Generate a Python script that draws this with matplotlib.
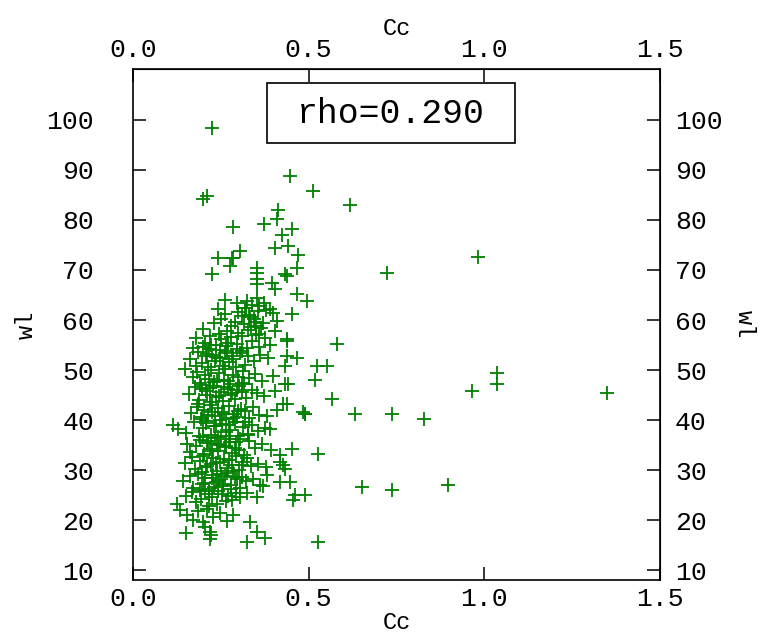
import matplotlib
matplotlib.use("Agg")
import matplotlib.pyplot as plt
from matplotlib.patches import Rectangle

plt.rcParams['font.family'] = ['Liberation Mono', 'DejaVu Sans']

# Cc / wl pairs, outliers first, then the dense cluster band by band
cc = [
    0.225, 0.200, 0.210, 0.447, 0.512, 0.618, 0.285, 0.413, 0.410, 0.373, 0.453, 0.424,
    0.404, 0.441, 0.470, 0.305, 0.242, 0.285, 0.723, 0.982, 1.036, 1.036, 0.965, 1.349,
    0.828, 0.897, 0.652, 0.737, 0.632, 0.737, 0.566, 0.524, 0.552, 0.518, 0.490, 0.527,
    0.527,
    # 64-74
    0.282, 0.225, 0.276, 0.353, 0.353, 0.467, 0.433, 0.353, 0.353, 0.396, 0.404, 0.467,
    0.495, 0.262, 0.353, 0.296, 0.438,
    # 57-64
    0.242, 0.399, 0.453, 0.410, 0.320, 0.330, 0.345, 0.360, 0.370, 0.335, 0.310, 0.350,
    0.290, 0.200, 0.268, 0.404, 0.380, 0.325, 0.230, 0.250, 0.280, 0.300, 0.315, 0.322,
    0.333, 0.340, 0.348, 0.357, 0.365, 0.372, 0.390, 0.326, 0.358, 0.262,
    # 54-57.5
    0.438, 0.581, 0.438, 0.180, 0.205, 0.220, 0.235, 0.250, 0.265, 0.280, 0.295, 0.310,
    0.325, 0.340, 0.360, 0.375, 0.390, 0.170, 0.215, 0.245, 0.300, 0.350,
    # 50.5-54
    0.438, 0.467, 0.433, 0.162, 0.178, 0.186, 0.197, 0.208, 0.214, 0.226, 0.233, 0.247,
    0.255, 0.268, 0.274, 0.286, 0.293, 0.305, 0.318, 0.327, 0.344, 0.362, 0.385,
    0.198, 0.210, 0.223, 0.236, 0.249, 0.261, 0.270, 0.283, 0.295, 0.310,
    # 47-50.5
    0.441, 0.433, 0.148, 0.171, 0.183, 0.192, 0.204, 0.217, 0.222, 0.238, 0.244, 0.259,
    0.263, 0.277, 0.284, 0.298, 0.309, 0.314, 0.331, 0.347, 0.366, 0.398,
    # 43.5-47
    0.158, 0.176, 0.189, 0.196, 0.211, 0.219, 0.229, 0.236, 0.251, 0.257, 0.271, 0.279,
    0.291, 0.302, 0.311, 0.322, 0.338, 0.352, 0.374, 0.405,
    0.193, 0.207, 0.220, 0.231, 0.245, 0.258, 0.269, 0.281, 0.297, 0.315,
    # 40-43.5
    0.427, 0.438, 0.490, 0.410, 0.484, 0.185, 0.166, 0.181, 0.193, 0.201, 0.213, 0.224,
    0.232, 0.241, 0.253, 0.266, 0.272, 0.288, 0.296, 0.307, 0.319, 0.329, 0.341, 0.358,
    0.382,
    0.196, 0.209, 0.224, 0.235, 0.248, 0.260, 0.273, 0.285, 0.300, 0.320,
    # 36.5-40
    0.390, 0.115, 0.128, 0.152, 0.174, 0.188, 0.199, 0.207, 0.221, 0.231, 0.243, 0.254,
    0.264, 0.276, 0.289, 0.299, 0.312, 0.326, 0.339, 0.357, 0.376,
    # 33-36.5
    0.453, 0.418, 0.154, 0.163, 0.179, 0.191, 0.203, 0.212, 0.218, 0.234, 0.242, 0.249,
    0.262, 0.273, 0.282, 0.294, 0.303, 0.316, 0.330, 0.346, 0.368, 0.393,
    0.200, 0.214, 0.226, 0.238, 0.251, 0.266, 0.277, 0.290, 0.306, 0.328,
    # 29.5-33
    0.418, 0.427, 0.433, 0.381, 0.149, 0.168, 0.177, 0.190, 0.198, 0.209, 0.223, 0.228,
    0.239, 0.248, 0.258, 0.269, 0.281, 0.292, 0.301, 0.313, 0.324, 0.336, 0.355, 0.378,
    0.197, 0.211, 0.225, 0.236, 0.250, 0.261, 0.274, 0.286, 0.296, 0.310,
    # 26-29.5
    0.418, 0.447, 0.362, 0.143, 0.161, 0.172, 0.184, 0.195, 0.206, 0.216, 0.227, 0.237,
    0.246, 0.256, 0.267, 0.278, 0.290, 0.304, 0.321, 0.343, 0.370,
    0.190, 0.203, 0.217, 0.230, 0.243, 0.255, 0.270, 0.280, 0.293, 0.310,
    # 22.5-26
    0.461, 0.490, 0.455, 0.125, 0.134, 0.152, 0.167, 0.180, 0.194, 0.205, 0.215, 0.226,
    0.240, 0.252, 0.265, 0.283, 0.305, 0.325, 0.353,
    # 19-22.5
    0.154, 0.171, 0.185, 0.200, 0.212, 0.228, 0.247, 0.268, 0.285, 0.333,
    # 15-19
    0.150, 0.205, 0.219, 0.219, 0.222, 0.325, 0.353, 0.376,
]

wl = [
    98.4, 84.2, 84.8, 88.8, 85.8, 83.0, 78.5, 82.0, 80.2, 79.2, 78.2, 77.0,
    74.4, 74.8, 73.0, 73.8, 72.4, 72.4, 69.4, 72.5, 49.4, 47.3, 45.9, 45.5,
    40.3, 27.1, 26.7, 26.1, 41.3, 41.3, 44.3, 50.8, 50.8, 48.0, 41.3, 33.2,
    15.6,
    # 64-74
    72.4, 69.2, 70.8, 70.3, 69.4, 70.4, 69.2, 68.2, 67.2, 67.4, 66.2, 65.2,
    63.8, 64.0, 64.4, 63.4, 68.8,
    # 57-64
    62.2, 61.4, 61.2, 59.8, 62.5, 61.0, 60.2, 62.8, 59.5, 58.6, 60.8, 58.8,
    59.6, 58.2, 57.8, 57.8, 62.0, 63.8, 59.5, 60.3, 58.9, 61.6, 59.2, 62.4,
    60.7, 63.1, 59.7, 61.8, 58.4, 63.5, 62.2, 58.1, 57.2, 61.2,
    # 54-57.5
    56.2, 55.2, 55.8, 56.5, 55.5, 56.8, 55.0, 56.2, 54.8, 56.6, 55.2, 56.9,
    54.5, 55.8, 54.6, 56.4, 55.1, 54.4, 54.2, 57.2, 57.4, 57.0,
    # 50.5-54
    52.8, 52.4, 50.8, 52.2, 50.9, 53.6, 51.4, 52.8, 50.6, 53.1, 51.9, 52.5,
    50.8, 53.8, 51.6, 52.2, 50.7, 53.4, 51.1, 52.9, 51.8, 53.0, 52.4,
    54.6, 53.2, 55.1, 52.7, 54.0, 53.5, 55.4, 52.9, 54.3, 53.9,
    # 47-50.5
    47.3, 47.2, 50.2, 48.6, 49.7, 47.4, 49.1, 48.3, 50.0, 47.8, 49.4, 48.1,
    50.3, 47.2, 49.0, 48.7, 47.5, 49.8, 48.4, 49.2, 47.9, 48.8,
    # 43.5-47
    45.3, 46.6, 44.1, 46.2, 45.0, 43.7, 46.8, 44.6, 45.7, 43.9, 46.3, 45.1,
    44.2, 46.9, 45.6, 44.4, 46.1, 45.4, 44.8, 45.9,
    47.1, 45.8, 46.4, 47.7, 44.9, 46.6, 47.9, 45.5, 46.0, 47.3,
    # 40-43.5
    43.3, 43.2, 41.3, 42.0, 41.6, 43.2, 41.5, 42.7, 40.3, 42.1, 41.0, 43.0,
    40.8, 42.4, 41.7, 40.2, 42.9, 41.3, 40.6, 42.2, 41.9, 40.4, 42.6, 41.1,
    40.9,
    40.7, 39.4, 41.6, 38.9, 40.1, 41.2, 39.0, 40.5, 41.8, 39.6,
    # 36.5-40
    38.2, 39.0, 38.2, 37.4, 39.6, 36.8, 38.5, 39.9, 37.1, 38.8, 36.6, 39.3,
    37.7, 38.1, 39.7, 36.9, 38.6, 37.3, 39.1, 37.9, 38.4,
    # 33-36.5
    34.3, 33.1, 35.2, 33.6, 34.9, 36.1, 33.2, 35.5, 34.3, 36.4, 33.8, 35.0,
    34.6, 36.2, 33.4, 35.7, 34.1, 33.0, 35.9, 34.4, 35.3, 34.0,
    36.7, 35.8, 33.9, 35.3, 36.9, 34.8, 35.6, 34.5, 36.3, 37.0,
    # 29.5-33
    31.6, 31.1, 30.2, 29.0, 31.4, 32.7, 30.2, 31.9, 32.9, 30.6, 31.2, 32.4,
    29.8, 31.7, 32.2, 30.4, 31.0, 32.8, 30.0, 31.6, 32.5, 30.9, 31.3, 30.7,
    29.6, 30.8, 28.5, 31.5, 29.3, 28.8, 32.1, 29.9, 28.2, 31.1,
    # 26-29.5
    27.6, 27.7, 27.0, 27.8, 28.9, 26.5, 29.2, 27.3, 28.4, 26.2, 29.0, 27.6,
    28.1, 26.8, 29.4, 27.1, 28.6, 26.4, 27.9, 28.3, 26.9,
    26.1, 27.5, 25.3, 26.6, 25.8, 27.2, 24.9, 26.3, 25.4, 28.7,
    # 22.5-26
    25.0, 25.0, 24.0, 23.2, 22.0, 24.8, 25.6, 23.6, 24.3, 25.9, 22.9, 24.6,
    23.3, 25.2, 23.9, 24.1, 24.6, 25.5, 24.6,
    # 19-22.5
    21.0, 20.0, 21.8, 19.6, 22.2, 20.6, 21.4, 19.8, 21.0, 19.6,
    # 15-19
    17.5, 18.6, 17.6, 16.2, 17.0, 15.6, 17.6, 16.4,
]

rho_text = 'rho=0.290'
x_ticks = [0.0, 0.5, 1.0, 1.5]
y_ticks = [10, 20, 30, 40, 50, 60, 70, 80, 90, 100]

fig = plt.figure(figsize=(7.69, 6.37), dpi=100)
ax = fig.add_axes([0.173, 0.089, 0.685, 0.803])

ax.plot(cc, wl, linestyle='none', marker='+', markersize=9.5,
        markeredgewidth=1.3, color='#008000', zorder=2)

ax.set_xlim(0, 1.5)
ax.set_ylim(8, 110.2)
ax.set_xticks(x_ticks)
ax.set_yticks(y_ticks)
ax.set_xticklabels(['%.1f' % t for t in x_ticks])

tick_kw = dict(direction='in', length=9.5, width=1.1, labelsize=19,
               colors='black')
ax.tick_params(axis='x', pad=5, **tick_kw)
ax.tick_params(axis='y', pad=28, **tick_kw)
for s in ax.spines.values():
    s.set_linewidth(1.2)

ax.set_xlabel('Cc', fontsize=17, labelpad=0)
ax.set_ylabel('wl', fontsize=17, labelpad=6)

top = ax.secondary_xaxis('top')
top.set_xticks(x_ticks)
top.set_xticklabels(['%.1f' % t for t in x_ticks])
top.tick_params(pad=5, **tick_kw)
top.set_xlabel('Cc', fontsize=17, labelpad=2)

right = ax.secondary_yaxis('right')
right.set_yticks(y_ticks)
right.tick_params(pad=11, **tick_kw)
right.set_ylabel('wl', fontsize=17, rotation=-90, labelpad=24)

box = Rectangle((0.254, 0.855), 0.471, 0.118, transform=ax.transAxes,
                facecolor='white', edgecolor='black', linewidth=1.2,
                zorder=5, clip_on=False)
ax.add_patch(box)
ax.text(0.4895, 0.912, rho_text, transform=ax.transAxes, ha='center',
        va='center', fontsize=25, zorder=6)

fig.savefig('out.png', dpi=100)
